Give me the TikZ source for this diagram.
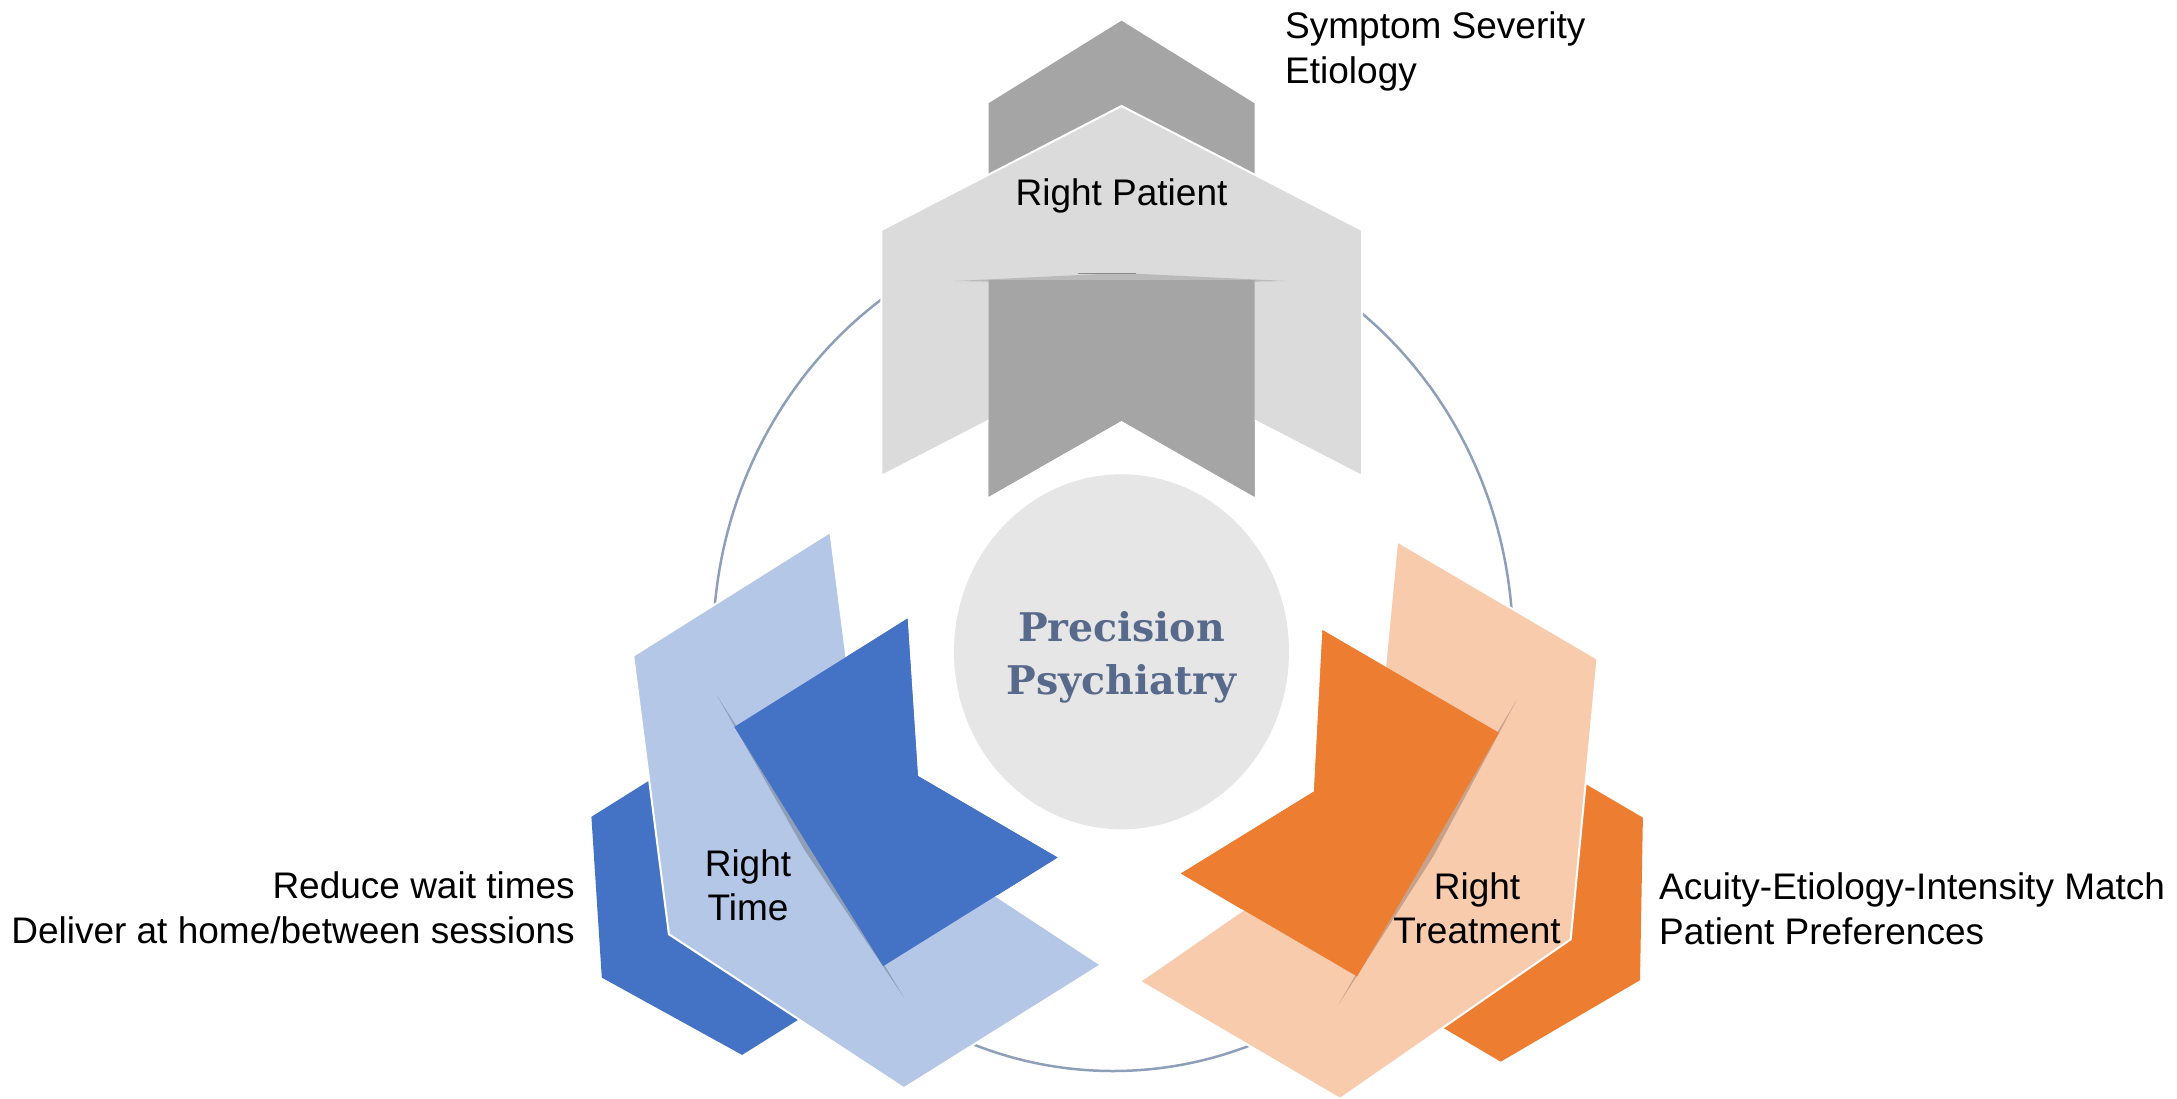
\documentclass[tikz,border=0pt]{standalone}
\usepackage{fontspec}
\setmainfont{Liberation Sans}
\newfontfamily\titlefont{DejaVu Serif}[BoldFont={DejaVu Serif Bold}]
\usetikzlibrary{shapes.geometric}
\definecolor{dgray}{HTML}{A5A5A5}
\definecolor{lgray}{HTML}{DBDBDB}
\definecolor{dblue}{HTML}{4472C4}
\definecolor{lblue}{HTML}{B4C7E7}
\definecolor{dorange}{HTML}{ED7D31}
\definecolor{peach}{HTML}{F8CBAD}
\definecolor{corefill}{HTML}{E6E6E6}
\definecolor{titlecol}{HTML}{586A8C}
\definecolor{ringcol}{HTML}{8E9FBA}
\tikzset{
  lbl/.style={font=\fontsize{37}{44.5}\selectfont, text=black, inner sep=0pt},
  rim/.style={draw=white, line width=2pt, line join=miter},
  foldshade/.style={fill=black, fill opacity=0.2, draw=none},
  ring/.style={draw=ringcol, line width=2.5pt},
}
\begin{document}
\begin{tikzpicture}[x=1pt,y=-1pt]
\useasboundingbox (0,0) rectangle (2177,1098);
\fill[white] (0,0) rectangle (2177,1098);

% outer ring
\draw[ring] (1113,646) ellipse [x radius=400pt, y radius=425pt];

% ---------- top group (Right Patient) ----------
\fill[dgray] (988.5,103.3) -- (1121.5,20.7) -- (1254.5,103.3) -- (1254.5,496.7) -- (1121.5,420.7) -- (988.5,496.7) -- cycle;
\path[fill=lgray, rim] (881.4,230) -- (1121.5,106) -- (1362,230) -- (1362,476) -- (1121.5,352) -- (881.4,476) -- cycle;
\fill[black, fill opacity=0.15] (955,281) -- (1121.5,273) -- (1287,281) -- (1121.5,284) -- cycle;
\draw[black!45, line width=1pt] (1078,273.5) -- (1136,273.5);
\fill[dgray] (988.5,280) -- (1254.5,280) -- (1254.5,496.7) -- (1121.5,420.7) -- (988.5,496.7) -- cycle;

% ---------- left group (Right Time) ----------
\fill[dblue] (601.8,977.6) -- (591.4,816.8) -- (907.5,618.6) -- (917.9,776) -- (1057.5,857.5) -- (742.1,1054.9) -- cycle;
\path[fill=lblue, rim] (668.9,934.3) -- (633.2,655.7) -- (830.4,531.8) -- (866.1,810.4) -- (1101.1,964.9) -- (903.9,1088.2) -- cycle;
\path[foldshade] (716.7,695) -- (804.5,850) -- (904,997.5) -- (812.1,845.2) -- cycle;
\fill[dblue] (734.3,726.9) -- (907.5,618.6) -- (917.9,776) -- (1057.5,857.5) -- (883.2,966.1) -- cycle;

% ---------- right group (Right Treatment) ----------
\fill[dorange] (1640,980.2) -- (1642.9,817.6) -- (1322.5,630.1) -- (1314,791.5) -- (1181,873.5) -- (1500.7,1061.7) -- cycle;
\path[fill=peach, rim] (1570.7,939.3) -- (1597.5,658.8) -- (1397.1,541.3) -- (1370.3,821.8) -- (1139.6,981.4) -- (1340,1098.9) -- cycle;
\path[foldshade] (1516.7,700) -- (1433.5,856) -- (1338.3,1005) -- (1425.8,851.5) -- cycle;
\fill[dorange] (1498.9,732.7) -- (1322.5,630.1) -- (1314,791.5) -- (1181,873.5) -- (1357.1,976.4) -- cycle;

% ---------- centre ----------
\node[ellipse, fill=corefill, minimum width=335pt, minimum height=355pt, inner sep=0pt] (core) at (1121.5,651.8) {};
\node[anchor=base, align=center, inner sep=0pt, text=titlecol,
      font=\titlefont\bfseries\fontsize{39.5}{52.3}\selectfont] (title) at (1121.5,694) {Precision\\Psychiatry};

% ---------- labels (base anchor = last line's baseline) ----------
\node[lbl, anchor=base] (patient) at (1121.5,205) {Right Patient};
\node[lbl, anchor=base, align=center] (time) at (748,920.5) {Right\\Time};
\node[lbl, anchor=base, align=center] (treat) at (1477,943.6) {Right\\Treatment};
\node[lbl, anchor=base west, align=left] (ptext) at (1285,83.3) {Symptom Severity\\Etiology};
\node[lbl, anchor=base east, align=right] (ttext) at (575,943.3) {Reduce wait times\\Deliver at home/between sessions};
\node[lbl, anchor=base west, align=left] (rtext) at (1659,944.3) {Acuity-Etiology-Intensity Match\\Patient Preferences};
\end{tikzpicture}
\end{document}
